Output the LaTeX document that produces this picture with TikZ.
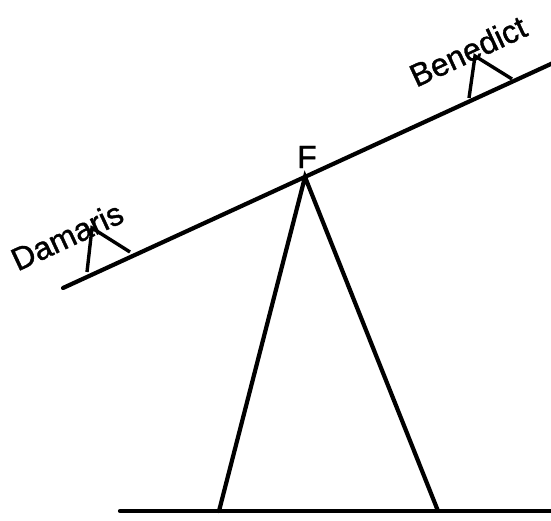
\documentclass[tikz,border=0pt]{standalone}
\usepackage{fontspec}
\setmainfont{Liberation Sans}
\newfontfamily\scanfont[FakeBold=1.2]{Liberation Sans}
\begin{document}
\begin{tikzpicture}[x=1pt,y=-1pt,
  thick line/.style={line width=4.2pt, line cap=round},
  seat/.style={line width=3.4pt, line join=miter},
  lbl/.style={font=\scanfont\fontsize{32}{34}\selectfont, inner sep=0pt}]
\useasboundingbox (0,0) rectangle (551,520);
% beam
\coordinate (bl) at (63,288);
\coordinate (br) at (553,63);
\coordinate (pivot) at (305,177);
\coordinate (fl) at (219,511);
\coordinate (fr) at (438,511);
\coordinate (gl) at (120,511);
\coordinate (gr) at (551,511);
\draw[thick line] (bl) -- (br);
\draw[thick line] (gl) -- (gr);
\draw[thick line, line join=miter] (fl) -- (pivot) -- (fr);
% seats
\draw[seat] (87,272) -- (92,228) -- (130,252);
\draw[seat] (469,98) -- (475,56) -- (512,79);
% labels
\node[lbl, rotate=25] (damaris) at (67,236) {Damaris};
\node[lbl, rotate=25] (benedict) at (468,51) {Benedict};
\node[lbl] (F) at (307,157) {F};
\end{tikzpicture}
\end{document}
